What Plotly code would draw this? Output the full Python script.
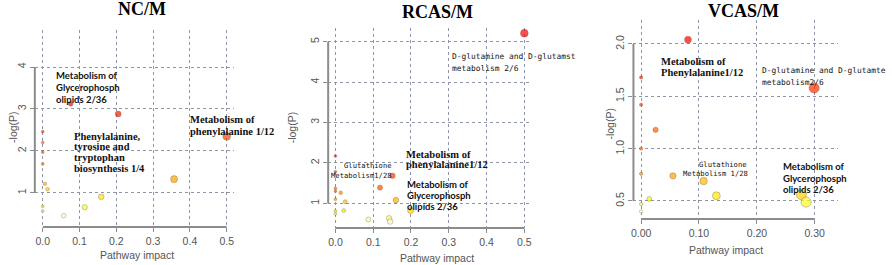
import colorsys
import numpy as np
import plotly.graph_objects as go

# ---------------- data ----------------
nc_impact = [0.076, 0.205, 0.5, 0.357, 0.0, 0.0, 0.0, 0.0, 0.006, 0.013, 0.159, 0.114, 0.0, 0.0, 0.057]
nc_logp = [3.12, 2.88, 2.35, 1.33, 2.46, 2.20, 1.97, 1.69, 1.22, 1.09, 0.91, 0.66, 0.68, 0.57, 0.46]

rc_impact = [0.5, 0.151, 0.118, 0.16, 0.199, 0.014, 0.026, 0.022, 0.087, 0.142, 0.145,
             0.0, 0.0, 0.0, 0.0, 0.0, 0.0, 0.0]
rc_logp = [5.21, 1.68, 1.39, 1.08, 0.82, 1.26, 1.04, 0.82, 0.60, 0.63, 0.55,
           2.17, 1.78, 1.37, 1.30, 1.10, 0.81, 0.74]

vc_impact = [0.081, 0.299, 0.025, 0.055, 0.108, 0.13, 0.014, 0.277, 0.285, 0.0, 0.0, 0.0, 0.0, 0.0, 0.0]
vc_logp = [2.04, 1.58, 1.18, 0.74, 0.69, 0.55, 0.52, 0.56, 0.49, 1.68, 1.42, 1.00, 0.76, 0.47, 0.40]

titles = ["NC/M", "RCAS/M", "VCAS/M"]
x_ticks = [[0, 0.1, 0.2, 0.3, 0.4, 0.5], [0, 0.1, 0.2, 0.3, 0.4, 0.5], [0, 0.1, 0.2, 0.3]]
y_ticks = [[1, 2, 3, 4], [1, 2, 3, 4, 5], [0.5, 1.0, 1.5, 2.0]]
x_fmt = [".1f", ".1f", ".2f"]
y_fmt = ["d", "d", ".1f"]

# ---------------- helpers ----------------
W, H = 892, 265


def heat_colors(n):
    j = n // 4
    i = n - j
    cols = []
    for k in range(i):
        h = (1 / 6) * (k / (i - 1) if i > 1 else 0)
        cols.append(colorsys.hsv_to_rgb(h, 1, 1))
    if j > 0:
        sats = np.linspace(1 - 1 / (2 * j), 1 / (2 * j), j)
        for s in sats:
            cols.append(colorsys.hsv_to_rgb(1 / 6, s, 1))
    return ["rgb(%d,%d,%d)" % tuple(int(round(c * 255)) for c in rgb) for rgb in cols]


def colors_for(logp):
    order = np.argsort(-np.array(logp), kind="stable")
    pal = heat_colors(len(logp))
    out = [None] * len(logp)
    for rank, idx in enumerate(order):
        out[idx] = pal[rank]
    return out


def px_x(p):
    return p / W


def px_y(p):
    return 1 - p / H


fig = go.Figure()

panels = [
    dict(imp=nc_impact, lp=nc_logp, dom_x=(32, 232), dom_y=(30, 227),
         rx=(-0.0216, 0.519), ry=(0.19, 4.881), s0=2.8, s1=5.0),
    dict(imp=rc_impact, lp=rc_logp, dom_x=(327, 530), dom_y=(28, 228),
         rx=(-0.0192, 0.515), ry=(0.389, 5.339), s0=2.8, s1=5.0),
    dict(imp=vc_impact, lp=vc_logp, dom_x=(634, 840), dom_y=(20, 219),
         rx=(-0.01323, 0.3407), ry=(0.328, 2.229), s0=3.3, s1=7.0),
]

shapes = []
grid_col = "#8f94a8"
axis_col = "#8c8c8c"
tick_font = dict(family="Liberation Sans, Arial, sans-serif", size=10.5, color="#555555")

for k, p in enumerate(panels):
    sfx = "" if k == 0 else str(k + 1)
    imp = np.array(p["imp"])
    sizes = p["s0"] + p["s1"] * np.sqrt(imp / imp.max())
    fig.add_trace(go.Scatter(
        x=p["imp"], y=p["lp"], mode="markers",
        xaxis="x" + sfx, yaxis="y" + sfx,
        marker=dict(size=sizes, color=colors_for(p["lp"]),
                    line=dict(color="rgba(90,60,20,0.6)", width=0.7)),
        showlegend=False, hoverinfo="x+y",
    ))
    common = dict(showline=False, zeroline=False, showgrid=True, gridcolor=grid_col,
                  griddash="dot", gridwidth=1, ticks="outside", ticklen=4,
                  tickcolor=axis_col, tickwidth=1, tickfont=tick_font, tickmode="array")
    fig.update_layout(**{
        "xaxis" + sfx: dict(domain=[px_x(p["dom_x"][0]), px_x(p["dom_x"][1])],
                            range=list(p["rx"]), anchor="y" + sfx,
                            tickvals=x_ticks[k], tickformat=x_fmt[k], **common),
        "yaxis" + sfx: dict(domain=[px_y(p["dom_y"][1]), px_y(p["dom_y"][0])],
                            range=list(p["ry"]), anchor="x" + sfx,
                            tickvals=y_ticks[k], tickformat=y_fmt[k], tickangle=-90,
                            **common),
    })
    xr = "x" + sfx
    yr = "y" + sfx
    shapes.append(dict(type="line", xref=xr + " domain", yref=yr, x0=0, x1=0,
                       y0=y_ticks[k][0], y1=y_ticks[k][-1],
                       line=dict(color=axis_col, width=2)))
    shapes.append(dict(type="line", xref=xr, yref=yr + " domain",
                       x0=x_ticks[k][0], x1=x_ticks[k][-1], y0=0, y1=0,
                       line=dict(color=axis_col, width=2)))

annotations = []


def add_lines(lines, left, y0, dy, family, size, bold=False, color="#111111"):
    for n, t in enumerate(lines):
        txt = "<b>%s</b>" % t if bold else t
        annotations.append(dict(text=txt, xref="paper", yref="paper",
                                x=px_x(left), y=px_y(y0 + n * dy),
                                xanchor="left", yanchor="middle", showarrow=False,
                                font=dict(family=family, size=size, color=color)))


SANS_B = "Lato, Open Sans, sans-serif"
SERIF = "Liberation Serif, Times New Roman, serif"
MONO = "DejaVu Sans Mono, Liberation Mono, monospace"

# titles
for t, cx, cy in zip(titles, [140, 436.5, 745], [9.5, 12, 10.7]):
    annotations.append(dict(text="<b>%s</b>" % t, xref="paper", yref="paper",
                            x=px_x(cx), y=px_y(cy), xanchor="center", yanchor="middle",
                            showarrow=False,
                            font=dict(family=SERIF, size=18, color="#000000")))

# axis titles
for cx, cy in [(135, 255), (436, 257.5), (727.5, 250)]:
    annotations.append(dict(text="Pathway impact", xref="paper", yref="paper",
                            x=px_x(cx), y=px_y(cy), xanchor="center", yanchor="middle",
                            showarrow=False,
                            font=dict(family="Liberation Sans, Arial, sans-serif", size=10.5,
                                      color="#555555")))
for cx, cy in [(10, 127), (291, 127), (610, 124)]:
    annotations.append(dict(text="-log(P)", xref="paper", yref="paper",
                            x=px_x(cx), y=px_y(cy), xanchor="center", yanchor="middle",
                            textangle=-90, showarrow=False,
                            font=dict(family="Liberation Sans, Arial, sans-serif", size=10.5,
                                      color="#555555")))

# panel 1 labels
add_lines(["Metabolism of", "Glycerophosph", "olipids 2/36"], 51.5, 75.7, 11.7, SANS_B, 9.5, True)
add_lines(["Phenylalanine,", "tyrosine and", "tryptophan", "biosynthesis 1/4"], 69, 136, 10.7,
          SERIF, 10.5, True)
add_lines(["Metabolism of", "phenylalanine 1/12"], 186, 119, 12, SERIF, 10.5, True)

# panel 2 labels
add_lines(["D-glutamine and D-glutamst", "metabolism 2/6"], 450, 57, 12, MONO, 7.9)
add_lines(["Glutathione"], 340.7, 165.7, 0, MONO, 7.2)
add_lines(["Metabolism1/28"], 328.3, 175, 0, MONO, 7.2)
add_lines(["Metabolism of", "phenylalanine1/12"], 403.7, 154, 10.7, SERIF, 10.5, True)
add_lines(["Metabolism of", "Glycerophosph", "olipids 2/36"], 404.3, 184.3, 11.2, SANS_B, 9.5, True)

# panel 3 labels
add_lines(["Metabolism of", "Phenylalanine1/12"], 659.3, 62, 10.7, SERIF, 10.5, True)
add_lines(["D-glutamine and D-glutamte", "metabolism2/6"], 761.7, 71, 12, MONO, 7.9)
add_lines(["Glutathione"], 697.7, 164, 0, MONO, 7.2)
add_lines(["Metabolism 1/28"], 681.7, 173.3, 0, MONO, 7.2)
add_lines(["Metabolism of", "Glycerophosph", "olipids 2/36"], 782.3, 166.7, 11.3, SANS_B, 9.5, True)

fig.update_layout(
    width=W, height=H, margin=dict(l=0, r=0, t=0, b=0),
    paper_bgcolor="white", plot_bgcolor="white",
    shapes=shapes, annotations=annotations, showlegend=False,
)

fig.write_html("out.html",
               config={"displayModeBar": False},
               post_script="document.body.style.margin='0px';"
                           "document.body.style.overflow='hidden';")
